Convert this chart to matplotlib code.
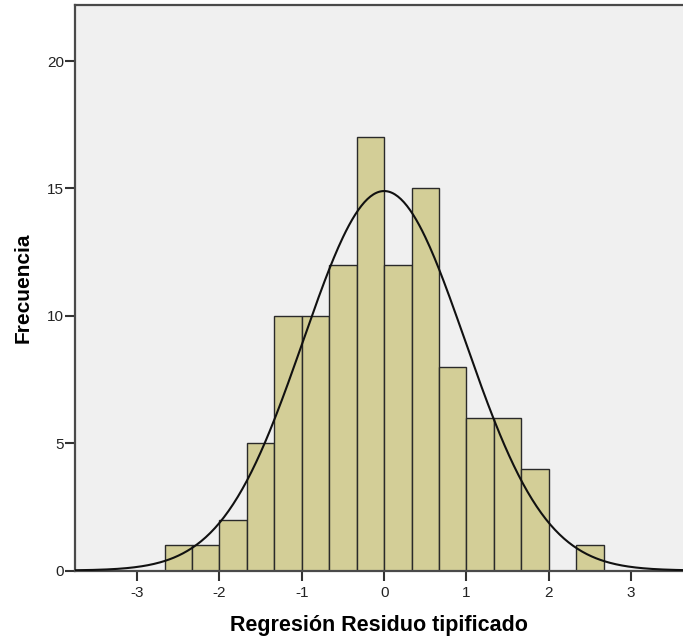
import numpy as np
import matplotlib
matplotlib.use("Agg")
import matplotlib.pyplot as plt

# Histogram of standardized residuals (bins of width 1/3)
bin_edges = [k / 3 for k in range(-8, 9)]
counts = [1, 1, 2, 5, 10, 10, 12, 17, 12, 15, 8, 6, 6, 4, 0, 1]
res_mean = 0.0
res_std = 0.982

plt.rcParams['font.family'] = ['Liberation Sans', 'DejaVu Sans']
plt.rcParams['axes.unicode_minus'] = False

fig = plt.figure(figsize=(6.83, 6.42), dpi=100)
ax = fig.add_axes([75 / 683, 1 - 570.5 / 642, 608 / 683, 565.5 / 642])
ax.set_facecolor('#f0f0f0')

lefts = np.array(bin_edges[:-1])
widths = np.diff(bin_edges)
ax.bar(lefts, counts, width=widths, align='edge', color='#d3ce97',
       edgecolor='#2a2a2a', linewidth=1.0, zorder=2)

# normal curve scaled to the histogram
n = sum(counts)
w = widths[0]
xs = np.linspace(-3.76, 3.63, 400)
ys = n * w / (res_std * np.sqrt(2 * np.pi)) * np.exp(-0.5 * ((xs - res_mean) / res_std) ** 2)
ax.plot(xs, ys, color='#111111', linewidth=1.5, zorder=3)

ax.set_xlim(-3.755, 3.63)
ax.set_ylim(0, 22.2)
ax.set_xticks([-3, -2, -1, 0, 1, 2, 3])
ax.set_yticks([0, 5, 10, 15, 20])
ax.tick_params(direction='out', length=7, width=1.5, color='#333333',
               labelsize=11, labelcolor='#222222')
ax.tick_params(axis='x', pad=4)
ax.tick_params(axis='y', pad=1)

for side in ['left', 'top', 'bottom']:
    ax.spines[side].set_color('#4a4a4a')
    ax.spines[side].set_linewidth(1.6)
ax.spines['right'].set_visible(False)

ax.set_xlabel('Regresión Residuo tipificado', fontsize=15.5, fontweight='bold', labelpad=11)
ax.set_ylabel('Frecuencia', fontsize=15, fontweight='bold', labelpad=10)

fig.savefig('out.png', dpi=100)
